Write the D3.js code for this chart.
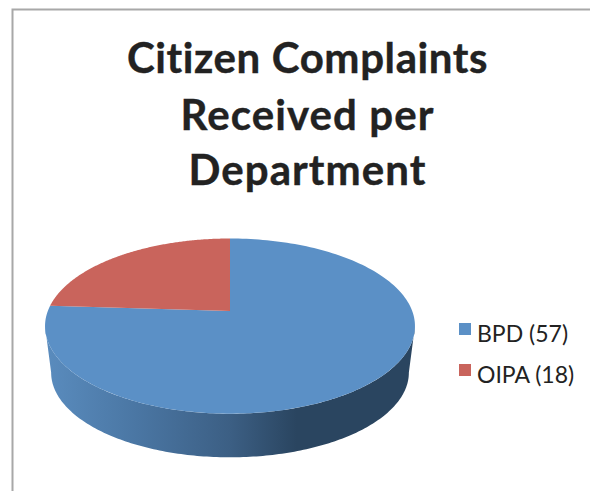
<!DOCTYPE html>
<html><head><meta charset="utf-8">
<style>html,body{margin:0;padding:0;background:#fff}svg{display:block}</style>
<script src="https://cdn.jsdelivr.net/npm/d3@7"></script></head>
<body><svg id="c" width="590" height="491"></svg>
<script>
const departments = ["BPD", "OIPA"];
const complaints = [57, 18];
const titleLines = ["Citizen Complaints", "Received per", "Department"];
const sliceColors = ["#5b90c6", "#c9645c"];

const svg = d3.select("#c");
// Chart frame
svg.append("path").attr("d", "M12.5,491V9.5H590").attr("fill", "none").attr("stroke", "#a8a8a8").attr("stroke-width", 2);

// Title
const titleY = [73, 130, 185];
const titleSpacing = [0.6, 1.1, 1.1];
svg.selectAll("text.t").data(titleLines).join("text").attr("class", "t")
  .attr("x", 307.5).attr("y", (d, i) => titleY[i]).attr("text-anchor", "middle")
  .attr("font-family", "Lato, sans-serif").attr("font-weight", 700).attr("font-size", 42)
  .attr("letter-spacing", (d, i) => titleSpacing[i]).attr("stroke", "#222").attr("stroke-width", 0.4)
  .attr("fill", "#222").text(d => d);

// Perspective projection of a disc
const apex = { x: 230, y: 311 };
const tilt = 0.1724, scaleX = 182.2, scaleY = 85;
const project = (a, k = 1, dy = 0) => {
  const u = Math.sin(a), v = Math.cos(a), w = 1 + tilt * v;
  return [apex.x + k * scaleX * u / w, apex.y - k * scaleY * v / w + dy];
};
const line = d3.line();
const samples = (a0, a1, n = 180) => d3.range(n + 1).map(i => a0 + (a1 - a0) * i / n);

const pie = d3.pie().sort(null).value(d => d)(complaints);

// Side wall
const depth = 47, bottomScale = 0.967;
const defs = svg.append("defs");
const grad = defs.append("linearGradient").attr("id", "side").attr("gradientUnits", "userSpaceOnUse")
  .attr("x1", 45).attr("x2", 415).attr("y1", 0).attr("y2", 0);
[[0, "#5a8cbe"], [0.25, "#4a76a3"], [0.5, "#3c5f84"], [0.68, "#2a4560"], [1, "#2a4560"]]
  .forEach(([o, c]) => grad.append("stop").attr("offset", o).attr("stop-color", c));

const extreme = Math.acos(-tilt); // angle of the widest point of the ellipse
const lower = samples(extreme, 2 * Math.PI - extreme);
const wall = [...lower.map(a => project(a, bottomScale, depth)), ...lower.slice().reverse().map(a => project(a))];
svg.append("path").attr("d", line(wall) + "Z").attr("fill", "url(#side)");

// Top face
svg.selectAll("path.slice").data(pie).join("path").attr("class", "slice")
  .attr("fill", (d, i) => sliceColors[i])
  .attr("d", d => line([[apex.x, apex.y], ...samples(d.startAngle, d.endAngle).map(a => project(a))]) + "Z");

// Legend
const legendY = d3.scalePoint().domain(departments).range([329, 370]);
const lg = svg.selectAll("g.l").data(departments).join("g").attr("class", "l")
  .attr("transform", d => `translate(459,${legendY(d)})`);
lg.append("rect").attr("y", -6).attr("width", 12).attr("height", 12).attr("fill", (d, i) => sliceColors[i]);
lg.append("text").attr("x", 18).attr("y", 13).attr("font-family", "Lato, sans-serif").attr("font-size", 23).attr("fill", "#222")
  .text((d, i) => `${d} (${complaints[i]})`);
</script></body></html>
